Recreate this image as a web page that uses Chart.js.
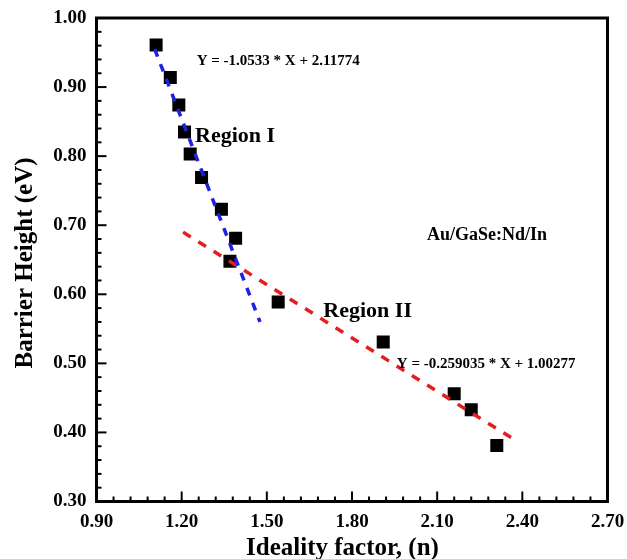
<!DOCTYPE html>
<html>
<head>
<meta charset="utf-8">
<title>Barrier Height vs Ideality factor</title>
<script src="https://cdn.jsdelivr.net/npm/chart.js@4"></script>
<style>
  html, body { margin: 0; padding: 0; background: #fff; overflow: hidden; }
  canvas { display: block; }
</style>
</head>
<body>
<canvas id="grafico" width="650" height="559"></canvas>
<script>
// puntos medidos
const idealidad = [1.11, 1.16, 1.19, 1.21, 1.23, 1.27, 1.34, 1.39, 1.37, 1.54, 1.91, 2.16, 2.22, 2.31];
const barrera = [0.961, 0.914, 0.874, 0.835, 0.803, 0.769, 0.723, 0.681, 0.648, 0.589, 0.531, 0.456, 0.433, 0.381];

// extremos de las rectas de ajuste
const ajuste1X = [1.105, 1.476];
const ajuste1Y = [0.955, 0.560];
const ajuste2X = [1.205, 2.374];
const ajuste2Y = [0.690, 0.389];

const ticksX = [0.90, 1.20, 1.50, 1.80, 2.10, 2.40, 2.70];
const ticksY = [0.30, 0.40, 0.50, 0.60, 0.70, 0.80, 0.90, 1.00];

const textos = ['Y = -1.0533 * X + 2.11774', 'Region I', 'Au/GaSe:Nd/In', 'Region II', 'Y = -0.259035 * X + 1.00277'];
const textosX = [1.253, 1.247, 2.064, 1.699, 1.958];
const textosY = [0.932, 0.821, 0.679, 0.567, 0.494];
const textosTam = [15, 22, 18, 22, 15];

const fuente = '"Liberation Serif", "Times New Roman", serif';
const ctx = document.getElementById('grafico').getContext('2d');

function linea(c, x1, y1, x2, y2) {
  c.beginPath();
  c.moveTo(x1, y1);
  c.lineTo(x2, y2);
  c.stroke();
}

// marco, ticks hacia adentro, titulos y notas
const extras = {
  id: 'extras',
  afterDraw(chart) {
    const c = chart.ctx;
    const a = chart.chartArea;
    const sx = chart.scales.x;
    const sy = chart.scales.y;
    c.save();
    c.strokeStyle = '#000';
    c.lineWidth = 2;
    for (let i = 1; i < 30; i++) {
      const px = sx.getPixelForValue(0.9 + i * 0.06);
      linea(c, px, a.bottom, px, a.bottom - (i % 5 === 0 ? 10 : 5));
    }
    for (let i = 1; i < 35; i++) {
      const py = sy.getPixelForValue(0.3 + i * 0.02);
      linea(c, a.left, py, a.left + (i % 5 === 0 ? 10 : 5), py);
    }
    c.lineWidth = 3;
    c.strokeRect(a.left, a.top, a.right - a.left, a.bottom - a.top);

    c.fillStyle = '#000';
    c.textBaseline = 'alphabetic';
    c.textAlign = 'left';
    for (let i = 0; i < textos.length; i++) {
      c.font = 'bold ' + textosTam[i] + 'px ' + fuente;
      c.fillText(textos[i], sx.getPixelForValue(textosX[i]), sy.getPixelForValue(textosY[i]));
    }

    c.font = 'bold 25px ' + fuente;
    c.textAlign = 'center';
    c.fillText('Ideality factor, (n)', 342.5, 555);
    c.translate(31.5, 263);
    c.rotate(-Math.PI / 2);
    c.fillText('Barrier Height (eV)', 0, 0);
    c.restore();
  }
};

const estiloTicks = {
  color: '#000',
  font: { family: fuente, size: 19, weight: 'bold' },
  callback: v => v.toFixed(2)
};

new Chart(ctx, {
  type: 'scatter',
  data: {
    datasets: [{
      label: 'Region I',
      data: ajuste1X.map((x, i) => ({ x: x, y: ajuste1Y[i] })),
      showLine: true,
      borderColor: '#1c22e0',
      borderWidth: 3.5,
      borderDash: [8, 8],
      pointRadius: 0
    }, {
      label: 'Region II',
      data: ajuste2X.map((x, i) => ({ x: x, y: ajuste2Y[i] })),
      showLine: true,
      borderColor: '#e41e1e',
      borderWidth: 3.5,
      borderDash: [9, 9],
      pointRadius: 0
    }, {
      label: 'Au/GaSe:Nd/In',
      data: idealidad.map((x, i) => ({ x: x, y: barrera[i] })),
      pointStyle: 'rect',
      pointRadius: 9.2,
      backgroundColor: '#000',
      borderWidth: 0
    }]
  },
  options: {
    responsive: false,
    animation: false,
    events: [],
    layout: { padding: { left: 0, top: 18, right: 42.5, bottom: 0 } },
    plugins: { legend: { display: false }, tooltip: { enabled: false } },
    scales: {
      x: {
        type: 'linear',
        min: 0.9,
        max: 2.7,
        afterBuildTicks: s => { s.ticks = ticksX.map(v => ({ value: v })); },
        afterFit: s => { s.height = 57.5; s.paddingLeft = 0; s.paddingRight = 0; },
        grid: { display: false, drawTicks: false },
        border: { display: false },
        ticks: Object.assign({ padding: 9, maxRotation: 0, autoSkip: false }, estiloTicks)
      },
      y: {
        type: 'linear',
        min: 0.3,
        max: 1.0,
        afterBuildTicks: s => { s.ticks = ticksY.map(v => ({ value: v })); },
        afterFit: s => { s.width = 96.5; s.paddingTop = 0; s.paddingBottom = 0; },
        grid: { display: false, drawTicks: false },
        border: { display: false },
        ticks: Object.assign({ padding: 10 }, estiloTicks)
      }
    }
  },
  plugins: [extras]
});
</script>
</body>
</html>
